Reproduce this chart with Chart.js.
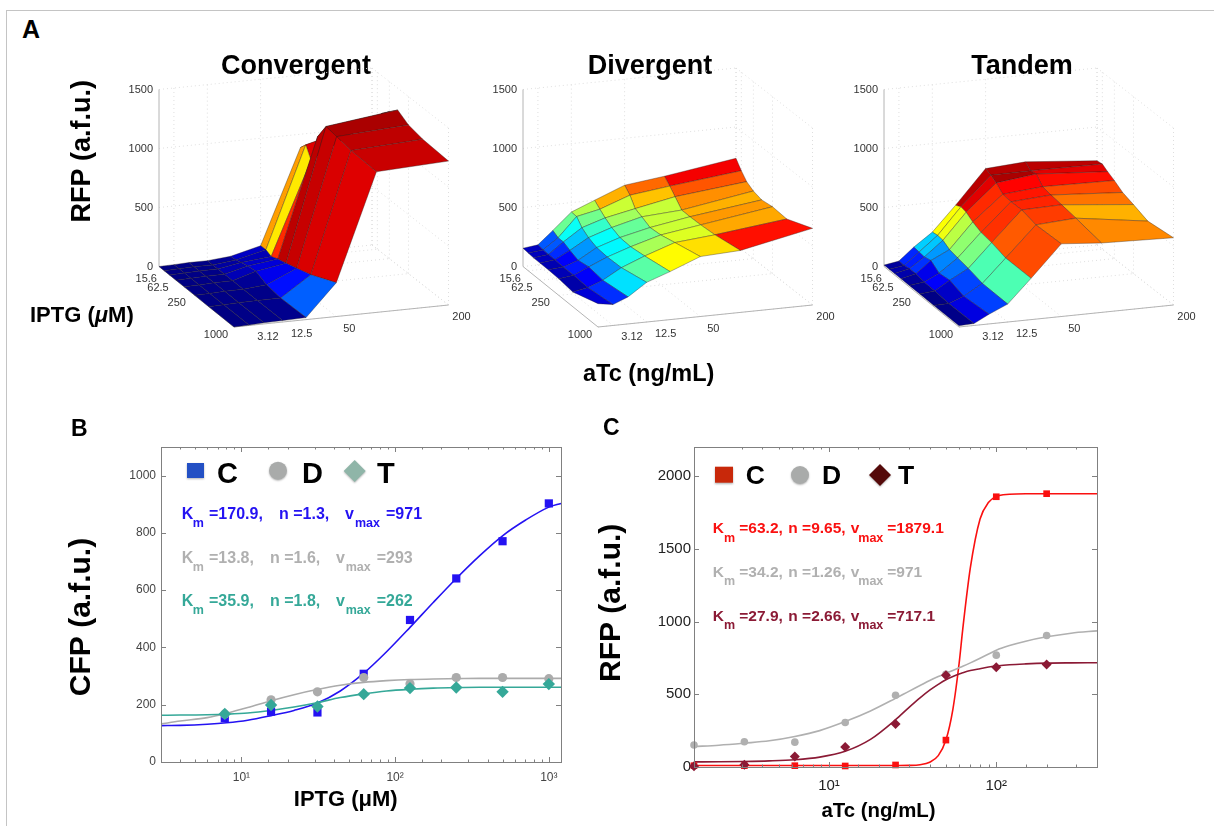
<!DOCTYPE html>
<html><head><meta charset="utf-8">
<style>
html,body{margin:0;padding:0;background:#fff;width:1214px;height:826px;overflow:hidden;font-family:"Liberation Sans",Arial,sans-serif}
canvas{position:absolute}
#frame{position:absolute;left:6px;top:10px;width:1208px;height:816px;border-left:1px solid #c4c4c4;border-top:1px solid #c4c4c4;box-sizing:border-box}
.lab{position:absolute;font-weight:bold;line-height:1;white-space:nowrap;color:#000}
</style></head><body>
<div id="frame"></div>
<canvas id="conv" width="472" height="320" style="left:60px;top:40px"></canvas>
<canvas id="div" width="380" height="320" style="left:460px;top:40px"></canvas>
<canvas id="tand" width="384" height="320" style="left:830px;top:40px"></canvas>
<canvas id="cfp" width="510" height="416" style="left:60px;top:410px"></canvas>
<canvas id="rfp" width="520" height="416" style="left:590px;top:410px"></canvas>
<script src="https://cdn.jsdelivr.net/npm/chart.js@4/dist/chart.umd.js"></script>
<script>
// ---------- Panel A data ----------
const atcDoses = [1.56, 3.12, 6.25, 12.5, 25, 50, 100, 200];
const iptgDoses = [7.8, 15.6, 31.25, 62.5, 125, 250, 500, 1000];
const atcTickLabels = ['3.12', '12.5', '50', '200'];
const iptgTickLabels = ['15.6', '62.5', '250', '1000'];
const rfpTicks3d = [0, 500, 1000, 1500];
const convergentRFP = [
  [0,3,8,8,25,89,887,1000],
  [0,3,8,8,30,90,946,1100],
  [0,3,8,10,45,69,850,1190],
  [0,3,8,10,60,92,1096,1246],
  [0,3,8,10,70,113,1237,1315],
  [0,3,8,10,28,141,1223,1260],
  [0,3,8,10,11,182,1200,1234],
  [0,3,10,12,17,287,1192,1220]];
const divergentRFP = [
  [155,171,280,420,500,602,644,735],
  [150,164,254,418,460,553,596,665],
  [145,161,254,359,422,475,542,608],
  [145,161,227,319,385,450,473,573],
  [145,155,199,291,356,415,472,553],
  [140,157,215,283,350,424,475,567],
  [125,149,198,288,367,455,486,558],
  [198,177,229,336,407,508,525,650]];
const tandemRFP = [
  [12,33,139,250,458,743,766,715],
  [12,32,133,258,480,723,726,722],
  [12,40,127,252,470,693,734,693],
  [12,42,141,218,432,641,671,662],
  [12,28,90,203,400,633,656,616],
  [12,25,102,186,385,636,645,585],
  [10,14,62,155,350,605,627,540],
  [10,16,82,152,350,616,588,570]];

// ---------- Panel B data ----------
const cfpIptg = [7.8, 15.6, 31.25, 62.5, 125, 250, 500, 1000];
const cfpC = [153, 176, 173, 308, 496, 641, 771, 903];
const cfpD = [168, 217, 245, 295, 273, 295, 295, 291];
const cfpT = [168, 199, 194, 237, 258, 260, 245, 272];
const cfpCurveX = [3,4,6,8,11,15.6,22,31,44,62.5,88,125,177,250,354,500,707,1000,1200];
const cfpCurveC = [127,128,132,137,146,162,180,205,248,310,385,470,557,641,720,790,845,890,903];
const cfpCurveD = [133,143,155,170,190,214,235,253,268,278,284,288,290,291,292,292,292,292,292];
const cfpCurveT = [163,164,165,167,171,180,192,207,225,238,248,254,258,260,261,261,261,261,261];
const cfpYTicks = [0,200,400,600,800,1000];
const cfpFits = [['170.9','1.3','971'],['13.8','1.6','293'],['35.9','1.8','262']];

// ---------- Panel C data ----------
const rfpAtc = [1.56, 3.12, 6.25, 12.5, 25, 50, 100, 200];
const rfpC = [9, 9, 9, 7, 14, 185, 1858, 1879];
const rfpD = [151, 174, 171, 306, 493, 637, 769, 904];
const rfpT = [5, 16, 73, 137, 295, 630, 685, 705];
const rfpCurveX = [1.56,2.2,3.12,4.4,6.25,8.8,12.5,17.7,25,30,35,40,45,50,55,60,63,70,80,90,100,120,150,200,280,400];
const rfpCurveC = [10,10,10,10,10,10,10,10,10,11,16,33,78,185,395,715,945,1370,1705,1820,1860,1875,1879,1879,1879,1879];
const rfpCurveD = [141,150,164,180,210,250,312,385,472,520,560,595,622,644,664,682,692,716,748,777,803,835,865,895,920,936];
const rfpCurveT = [35,36,38,42,50,68,108,190,325,408,475,528,568,600,622,640,648,663,676,687,694,703,709,714,716,717];
const rfpYTicks = [0,500,1000,1500,2000];
const rfpFits = [['63.2','9.65','1879.1'],['34.2','1.26','971'],['27.9','2.66','717.1']];

// ---------- helpers ----------
const FONT = '"Liberation Sans", Arial, sans-serif';
Chart.defaults.font.family = FONT;
Chart.defaults.animation = false;

function jet(t) {
  t = Math.max(0, Math.min(1, t));
  const r = t < .375 ? 0 : t < .625 ? (t - .375) / .25 : t < .875 ? 1 : 1 - .5 * (t - .875) / .125;
  const g = t < .125 ? 0 : t < .375 ? (t - .125) / .25 : t < .625 ? 1 : t < .875 ? 1 - (t - .625) / .25 : 0;
  const b = t < .125 ? .5 + .5 * t / .125 : t < .375 ? 1 : t < .625 ? 1 - (t - .375) / .25 : 0;
  return `rgb(${Math.round(r*255)},${Math.round(g*255)},${Math.round(b*255)})`;
}

// View of the 3D box: screen displacement of the floor corners from the back-left corner
const VIEW = {far:[213,-21.5], front:[75,60.5], right:[289.5,38.5], pxPerRFP:.118};
const doseStep = [0,.07,.14,.227,.336,.477,.664,1]; // spacing of the doses along each floor edge
function project(u, v, z) {
  const [fx,fy] = VIEW.far, [bx,by] = VIEW.front, [cx,cy] = VIEW.right;
  const x = fx*u + bx*v + (cx-fx-bx)*u*v;
  const y = fy*u + by*v + (cy-fy-by)*u*v;
  return {x, y: z - y / VIEW.pxPerRFP};
}
function surfaceDatasets(Z) {
  const flat = Z.flat(), zmin = Math.min(...flat), zmax = Math.max(...flat);
  const painted = [];
  // guide lines
  const guide = (pts, solid) => painted.push({
    data: pts.map(p => project(p[0], p[1], p[2])), showLine:true, fill:false, pointRadius:0, clip:false,
    borderColor: solid ? '#b4b4b4' : '#dedede', borderWidth: 1, borderDash: solid ? [] : [1,3], tension:0 });
  const tickFrac = [1,3,5,7].map(i => doseStep[i]);
  for (const z of rfpTicks3d.slice(1)) { guide([[0,0,z],[1,0,z]]); guide([[1,0,z],[1,1,z]]); }
  for (const u of tickFrac) { guide([[u,0,0],[u,0,1500]]); guide([[u,0,0],[u,1,0]]); }
  for (const v of tickFrac) { guide([[1,v,0],[1,v,1500]]); guide([[0,v,0],[1,v,0]]); }
  guide([[1,0,0],[1,0,1500]]); guide([[1,1,0],[1,1,1500]]);
  guide([[1,0,0],[1,1,0]]); guide([[0,0,0],[1,0,0]]);
  guide([[0,0,0],[0,0,1500]], true); guide([[0,0,0],[0,1,0]], true); guide([[0,1,0],[1,1,0]], true);
  // facets, far ones first
  for (let r = 0; r < iptgDoses.length - 1; r++) {
    for (let c = atcDoses.length - 2; c >= 0; c--) {
      const P = (rr,cc) => project(doseStep[cc], doseStep[rr], Z[rr][cc]);
      painted.push({
        data:[P(r,c),P(r,c+1),P(r+1,c+1),P(r+1,c),P(r,c)],
        showLine:true, fill:'shape', pointRadius:0, clip:false, tension:0,
        backgroundColor: jet((Z[r+1][c+1]-zmin)/(zmax-zmin)),
        borderColor:'rgba(40,30,30,.6)', borderWidth:.6, borderJoinStyle:'round'
      });
    }
  }
  return painted.reverse();
}
const floorLabels = {
  id:'floorLabels',
  afterDraw(chart) {
    const {ctx, scales:{x,y}} = chart;
    ctx.save();
    ctx.font = `11px ${FONT}`; ctx.fillStyle = '#333'; ctx.textAlign='center'; ctx.textBaseline='middle';
    const put = (txt,u,v,dx,dy) => { const p = project(u,v,0);
      ctx.fillText(txt, x.getPixelForValue(p.x)+dx, y.getPixelForValue(p.y)+dy); };
    iptgTickLabels.forEach(t => put(t, 0, doseStep[iptgDoses.indexOf(parseFloat(t))], -18, 8));
    atcTickLabels.forEach((t,i) => put(t, doseStep[atcDoses.indexOf(parseFloat(t))], 1, i<2?19:13, 12));
    ctx.restore();
  }
};
function surfaceChart(id, title, Z, yw, yTitle) {
  const cv = document.getElementById(id);
  return new Chart(cv, {
    type:'scatter',
    data:{datasets:surfaceDatasets(Z)},
    plugins:[floorLabels],
    options:{
      responsive:false, devicePixelRatio:1, animation:false,
      layout:{padding:{bottom:30}},
      plugins:{legend:{display:false}, tooltip:{enabled:false},
        title:{display:true, text:title, color:'#000', font:{size:27,weight:'bold'}, padding:{top:10,bottom:-2.4}}},
      scales:{
        x:{type:'linear', display:false, min:0, max:cv.width-yw},
        y:{type:'linear', min:-(330-266.5)/VIEW.pxPerRFP, max:(266.5-80)/VIEW.pxPerRFP,
          afterFit(s){ s.width = yw; },
          afterBuildTicks(s){ s.ticks = rfpTicks3d.map(v => ({value:v})); },
          grid:{display:false,drawTicks:false}, border:{display:false},
          ticks:{color:'#333', font:{size:11}, padding:6, callback:v => String(v), autoSkip:false},
          title:{display:!!yTitle, text:yTitle||'', align:'end', color:'#000', font:{size:27,weight:'bold'}, padding:{top:6,bottom:0}}
        }
      }
    }
  });
}
surfaceChart('conv','Convergent',convergentRFP,99,'RFP (a.f.u.)');
surfaceChart('div','Divergent',divergentRFP,63);
surfaceChart('tand','Tandem',tandemRFP,54);

// ---------- 2D panels ----------
const pts = (xs,ys) => xs.map((x,i) => ({x, y:ys[i]}));
const SUP = {1:'\u00b9',2:'\u00b2',3:'\u00b3'};
const decade = v => { const e = Math.log10(v); return Math.abs(e-Math.round(e))<1e-9 ? '10'+(SUP[Math.round(e)]||'') : ''; };
const boxTicks = {
  id:'boxTicks',
  afterDraw(chart) {
    const {ctx, chartArea:a, scales:{x,y}} = chart;
    ctx.save(); ctx.strokeStyle='#808080'; ctx.lineWidth=1;
    ctx.strokeRect(a.left+.5,a.top+.5,a.right-a.left,a.bottom-a.top);
    ctx.beginPath();
    x.ticks.forEach(t => { const p=Math.round(x.getPixelForValue(t.value))+.5, l=decade(t.value)?5:2.5;
      ctx.moveTo(p,a.bottom); ctx.lineTo(p,a.bottom-l); ctx.moveTo(p,a.top); ctx.lineTo(p,a.top+l); });
    y.ticks.forEach(t => { const p=Math.round(y.getPixelForValue(t.value))+.5;
      ctx.moveTo(a.left,p); ctx.lineTo(a.left+5,p); ctx.moveTo(a.right,p); ctx.lineTo(a.right-5,p); });
    ctx.stroke(); ctx.restore();
  }
};
function annotations(cfg) {
  return { id:'annotations', afterDraw(chart) {
    const ctx = chart.ctx; ctx.save(); ctx.translate(-cfg.L,-cfg.T);
    ctx.textBaseline='alphabetic'; ctx.textAlign='left';
    // key
    const k = cfg.key;
    ctx.save(); ctx.shadowColor='rgba(0,0,0,.3)'; ctx.shadowBlur=2; ctx.shadowOffsetY=1;
    ctx.fillStyle=k.colors[0]; ctx.fillRect(k.sq[0],k.sq[1],k.sq[2],k.sq[3]);
    ctx.fillStyle=k.colors[1]; ctx.beginPath(); ctx.arc(k.ci[0],k.ci[1],k.ci[2],0,Math.PI*2); ctx.fill();
    ctx.fillStyle=k.colors[2]; ctx.beginPath(); const [dx,dy,dr]=k.di;
    ctx.moveTo(dx,dy-dr); ctx.lineTo(dx+dr,dy); ctx.lineTo(dx,dy+dr); ctx.lineTo(dx-dr,dy); ctx.closePath(); ctx.fill();
    ctx.restore();
    ctx.fillStyle='#000'; ctx.font=`bold ${k.size}px ${FONT}`;
    ['C','D','T'].forEach((s,i)=>ctx.fillText(s,k.x[i],k.y));
    // fitted parameters
    cfg.fits.forEach((f,i) => {
      const lay = cfg.lay[i], y = cfg.base[i];
      ctx.fillStyle = cfg.colors[i];
      const big = `bold ${cfg.size}px ${FONT}`, sub = `bold ${cfg.sub}px ${FONT}`;
      ctx.font = big;
      ctx.fillText('K', lay[0], y);
      ctx.fillText('='+f[0]+',', lay[2], y);
      ctx.fillText('n ='+f[1]+',', lay[3], y);
      ctx.fillText('v', lay[4], y);
      ctx.fillText('='+f[2], lay[6], y);
      ctx.font = sub;
      ctx.fillText('m', lay[1], y+cfg.drop);
      ctx.fillText('max', lay[5], y+cfg.drop);
    });
    ctx.restore();
  }};
}
function doseChart(id, o) {
  const mark = (label,xs,ys,col,style,r) => ({label,data:pts(xs,ys),showLine:false,pointStyle:style,pointRadius:r,
    pointBackgroundColor:col,pointBorderColor:col,pointBorderWidth:0,clip:false});
  const curve = (label,xs,ys,col) => ({label,data:pts(xs,ys),showLine:true,pointRadius:0,borderColor:col,borderWidth:1.6,
    cubicInterpolationMode:'monotone',fill:false,clip:false});
  return new Chart(document.getElementById(id), {
    type:'scatter',
    data:{datasets:[
      mark('T',o.x,o.t,o.col[2],'rectRot',o.r[2]),
      mark('D',o.x,o.d,o.col[1],'circle',o.r[1]),
      mark('C',o.x,o.c,o.col[0],'rect',o.r[0]),
      curve('T fit',o.cx,o.ct,o.col[2]),
      curve('D fit',o.cx,o.cd,o.col[1]),
      curve('C fit',o.cx,o.cc,o.col[0])
    ]},
    plugins:[boxTicks, annotations(o.ann)],
    options:{
      responsive:false, devicePixelRatio:1, animation:false,
      layout:{padding:{top:37,right:o.padR}},
      plugins:{legend:{display:false},tooltip:{enabled:false}},
      scales:{
        x:{type:'logarithmic',min:o.xmin,max:o.xmax,
          afterFit(s){s.height=o.xh;},
          grid:{display:false,drawTicks:false},border:{display:false},
          ticks:{color:o.tc,font:{size:o.tf},padding:o.xpad,autoSkip:false,maxRotation:0,callback:v=>decade(v)},
          title:{display:true,text:o.xt,color:'#000',font:{size:o.xtf,weight:'bold'},padding:{top:0,bottom:o.xtp}}},
        y:{type:'linear',min:0,max:o.ymax,
          afterFit(s){s.width=o.yw;},
          afterBuildTicks(s){ s.ticks = o.yticks.map(v => ({value:v})); },
          grid:{display:false,drawTicks:false},border:{display:false},
          ticks:{color:o.tc,font:{size:o.tf},padding:o.ypad,autoSkip:false,callback:v=>String(v)},
          title:{display:true,text:o.yt,color:'#000',font:{size:30,weight:'bold'},padding:{top:4,bottom:0}}}
      }
    }
  });
}
const NB='\u00a0';
doseChart('cfp',{x:cfpIptg,c:cfpC,d:cfpD,t:cfpT,cx:cfpCurveX,cc:cfpCurveC,cd:cfpCurveD,ct:cfpCurveT,yticks:cfpYTicks,
  col:['#2412f2','#ababab','#35a898'],r:[5.8,4.6,6.2],xmin:3,xmax:1200,ymax:1100,
  padR:9,xh:64,yw:101,tc:'#444',tf:12,xpad:8,ypad:5,xtf:22,xtp:13,
  xt:'IPTG (\u03bcM)'+NB.repeat(5),yt:'CFP (a.f.u.)'+NB.repeat(3),
  ann:{L:60,T:410,fits:cfpFits,colors:['#2412f2','#b0b0b0','#35a898'],size:16,sub:12.5,drop:8,base:[519,562.7,606],
    lay:[[181.7,192.7,209,279,345,355,386],[181.7,192.7,209,270,336,345.7,376.7],[181.7,192.7,209,270,336,345.7,376.7]],
    key:{colors:['#2350c4','#a9abaa','#8fb5a8'],sq:[187,463,17,15],ci:[278,470.7,9],di:[354.7,471,11],size:29,x:[217,302,377],y:482.7}}});
doseChart('rfp',{x:rfpAtc,c:rfpC,d:rfpD,t:rfpT,cx:rfpCurveX,cc:rfpCurveC,cd:rfpCurveD,ct:rfpCurveT,yticks:rfpYTicks,
  col:['#fa1010','#b0b0b0','#8b1a35'],r:[4.7,3.8,5],xmin:1.56,xmax:400,ymax:2200,
  padR:13,xh:59,yw:104,tc:'#222',tf:15,xpad:10,ypad:3,xtf:20.4,xtp:2,
  xt:'aTc (ng/mL)'+NB.repeat(6),yt:NB+'RFP (a.f.u.)',
  ann:{L:590,T:410,fits:rfpFits,colors:['#fa1010','#b0b0b0','#8b1a35'],size:15.5,sub:12.5,drop:8.4,base:[533.3,576.7,621],
    lay:[0,1,2].map(()=>[712.7,724,739.3,788.3,850.7,858.3,887.3]),
    key:{colors:['#c8280a','#a9abaa','#550a0a'],sq:[715,466.7,18,16],ci:[800,475,9],di:[880,475,11],size:26.5,x:[745.7,822,898],y:484}}});

// ---------- free labels ----------
function label(html,x,base,size){ const d=document.createElement('div'); d.className='lab'; d.innerHTML=html;
  d.style.left=x+'px'; d.style.top=(base-.8465*size)+'px'; d.style.fontSize=size+'px'; document.body.appendChild(d); }
label('A',22,38,25);
label('B',71,436,23);
label('C',603,435,23);
label('IPTG (<i>\u03bc</i>M)',30,322.7,22);
label('aTc (ng/mL)',583,381.7,23.5);
</script>
</body></html>
